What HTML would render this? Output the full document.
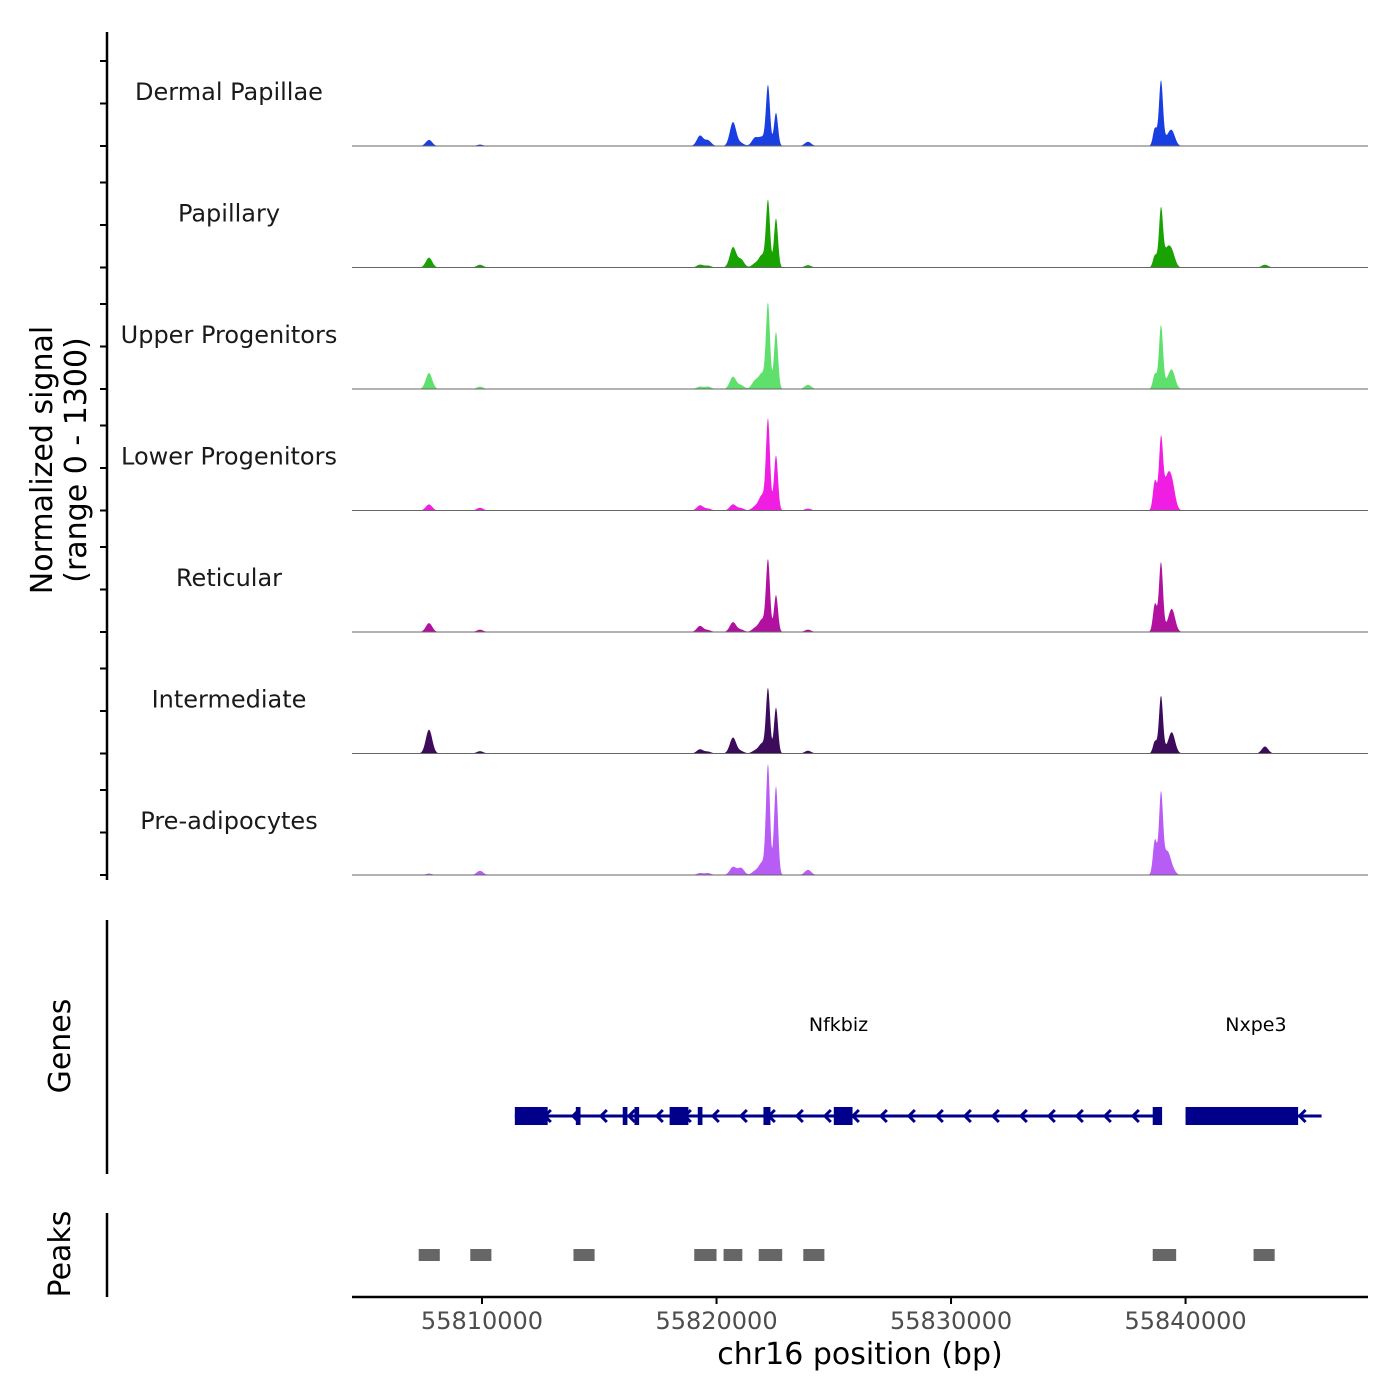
<!DOCTYPE html>
<html><head><meta charset="utf-8"><style>
html,body{margin:0;padding:0;background:#fff}
svg{display:block;font-family:"DejaVu Sans","Liberation Sans",sans-serif}
</style></head><body>
<svg id="chart" width="1400" height="1400" viewBox="0 0 1400 1400">
<g id="tracks"></g>
<g id="genes"></g>
<g id="peaks"></g>
<g id="axes"></g>
</svg>
<script>
const trackNames = ["Dermal Papillae","Papillary","Upper Progenitors","Lower Progenitors","Reticular","Intermediate","Pre-adipocytes"];
const trackColors = ["#1a3fe0","#18a300","#5fe06c","#f01ee3","#b0129f","#3d0b5c","#b85cf6"];
const peakPositions = [55807740,55809914,55819295,55819636,55820702,55821043,55821640,55821940,55822195,55822536,55823900,55838696,55838952,55839208,55839421,55843387];
const sigDermal   = [65,15,110,60,255,30,85,90,640,355,45,190,690,70,150,5];
const sigPapillary= [105,30,30,20,215,85,40,130,705,525,25,130,620,170,150,30];
const sigUpper    = [170,25,25,25,130,40,85,160,900,610,45,160,675,60,190,5];
const sigLower    = [65,30,55,20,65,25,40,160,960,590,20,320,750,300,270,5];
const sigReticular= [95,25,65,20,105,25,40,130,760,395,25,300,740,40,235,5];
const sigInter    = [255,25,45,20,170,25,30,105,685,490,30,130,610,40,215,75];
const sigPreadip  = [15,45,20,20,85,75,40,130,1165,950,55,375,855,235,60,5];
const trackSignals = [sigDermal,sigPapillary,sigUpper,sigLower,sigReticular,sigInter,sigPreadip];
const xTicks = [55810000,55820000,55830000,55840000];
const exonStarts = [55811400,55818000,55825000,55838600,55822000,55814000,55816000,55816500,55819200,55840000];
const exonEnds   = [55812800,55818800,55825800,55839000,55822300,55814200,55816200,55816700,55819400,55844800];
const geneStarts = [55811400,55840000];
const geneEnds   = [55838900,55845800];
const geneLabels = ["Nfkbiz","Nxpe3"];
const geneLabelPos = [55825200,55843000];
const peakStarts = [55807300,55809500,55813900,55819050,55820300,55821800,55823700,55838600,55842900];
const peakEnds   = [55808200,55810400,55814800,55820000,55821100,55822800,55824600,55839600,55843800];

const NS="http://www.w3.org/2000/svg";
const X0=352,X1=1368,BP0=55804456,BP1=55847780;
function xs(bp){return X0+(bp-BP0)/(BP1-BP0)*(X1-X0);}
const TRACK_H=121.5, MAXV=1300;
function mk(tag,attrs,parent){const e=document.createElementNS(NS,tag);for(const k in attrs)e.setAttribute(k,attrs[k]);parent.appendChild(e);return e;}
const gT=document.getElementById('tracks');
trackNames.forEach((name,i)=>{
  const base=146+i*TRACK_H;
  const sig=trackSignals[i];
  let d=`M${X0+48},${base}`;
  for(let x=X0+48;x<=1295;x+=0.5){
    let v=0;
    for(let j=0;j<peakPositions.length;j++){
      const dx=x-xs(peakPositions[j]);
      const w=(j>=8&&j<=9)||(j>=11&&j<=12)?2.0:3.2;
      v+=sig[j]*Math.exp(-dx*dx/(2*w*w));
    }
    const y=base-v/MAXV*TRACK_H;
    d+=` L${x.toFixed(1)},${y.toFixed(2)}`;
  }
  d+=` L1295,${base} Z`;
  const p=mk('path',{d:d,fill:trackColors[i]},gT);
  
  
  const bl=mk('line',{x1:X0,x2:X1,y1:base,y2:base,stroke:'#666','stroke-width':1},gT);
  
  
  const t=mk('text',{x:229,y:base-46,'text-anchor':'middle','font-size':24,fill:'#1a1a1a'},gT);
  t.textContent=name;
  
  
});

// genes
const gG=document.getElementById('genes');
const GY=1116;
geneStarts.forEach((s,i)=>{
  const l=mk('line',{x1:xs(s),x2:xs(geneEnds[i]),y1:GY,y2:GY,stroke:'#00008b','stroke-width':3},gG);
  
  
  for(let x=xs(s)+30;x<xs(geneEnds[i])-5;x+=28){
    const a=mk('path',{d:`M${x+6},${GY-6} L${x},${GY} L${x+6},${GY+6}`,fill:'none',stroke:'#00008b','stroke-width':3},gG);
    
    
  }
  const t=mk('text',{x:xs(geneLabelPos[i]),y:1031,'text-anchor':'middle','font-size':19,fill:'#000'},gG);
  t.textContent=geneLabels[i];
  
  
});
exonStarts.forEach((s,i)=>{
  const r=mk('rect',{x:xs(s),y:1107,width:Math.max(3,xs(exonEnds[i])-xs(s)),height:18,fill:'#00008b'},gG);
  
  
});

// peaks
const gP=document.getElementById('peaks');
peakStarts.forEach((s,i)=>{
  const r=mk('rect',{x:xs(s),y:1249,width:xs(peakEnds[i])-xs(s),height:12,fill:'#666'},gP);
  
  
});

// axes
const gA=document.getElementById('axes');
function ln(x1,y1,x2,y2,w,name){const l=mk('line',{x1,y1,x2,y2,stroke:'#000','stroke-width':w},gA);}
ln(107,32,107,880,2.5,'y-axis-line');
for(let i=0;i<7;i++){const b=146+i*TRACK_H;[0,42.5,85].forEach(o=>ln(100,b-o,107,b-o,2,'y-tick'));}
ln(107,920,107,1174,2.5,'genes-axis-line');
ln(107,1213,107,1297,2.5,'peaks-axis-line');
ln(352,1297,1368,1297,2.5,'x-axis-line');
xTicks.forEach(v=>{
  ln(xs(v),1297,xs(v),1304,2,'x-tick');
  const t=mk('text',{x:xs(v),y:1329,'text-anchor':'middle','font-size':24,fill:'#4d4d4d'},gA);
  t.textContent=v;
  
  
});
function txt(s,attrs,name){const t=mk('text',attrs,gA);t.textContent=s;}
txt('chr16 position (bp)',{x:860,y:1364,'text-anchor':'middle','font-size':30,fill:'#000'},'x-axis-title');
txt('Normalized signal',{x:0,y:0,transform:'translate(52,460) rotate(-90)','text-anchor':'middle','font-size':30,fill:'#000'},'y-axis-title');
txt('(range 0 - 1300)',{x:0,y:0,transform:'translate(86,460) rotate(-90)','text-anchor':'middle','font-size':30,fill:'#000'},'y-axis-range');
txt('Genes',{x:0,y:0,transform:'translate(70,1046) rotate(-90)','text-anchor':'middle','font-size':30,fill:'#000'},'genes-axis-title');
txt('Peaks',{x:0,y:0,transform:'translate(70,1254) rotate(-90)','text-anchor':'middle','font-size':30,fill:'#000'},'peaks-axis-title');
</script>
</body></html>
